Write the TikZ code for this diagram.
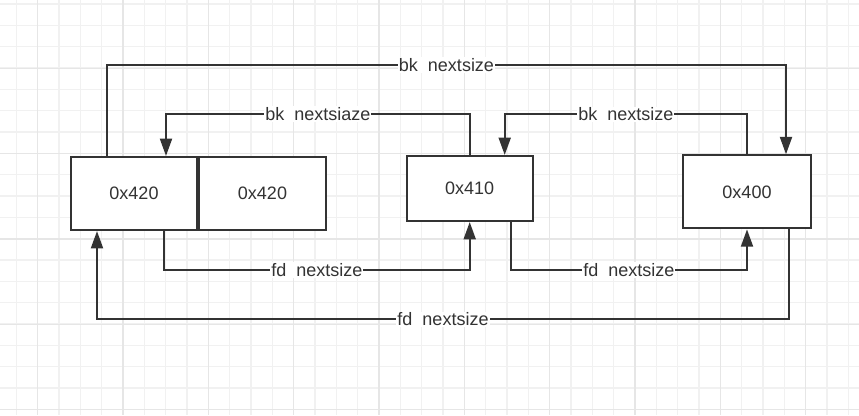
\documentclass[tikz,border=0pt]{standalone}
\usepackage{fontspec}
\setmainfont{Liberation Sans}
\usetikzlibrary{arrows.meta,calc}

\definecolor{linegray}{HTML}{333333}
\definecolor{gridminor}{HTML}{F1F1F1}
\definecolor{gridmajor}{HTML}{E6E6E6}

\begin{document}
\begin{tikzpicture}[
  x=0.75pt, y=-0.75pt,
  gridline/.style={draw=gridminor, line width=0.9pt},
  gridmain/.style={draw=gridmajor, line width=1.1pt},
  chunk/.style={draw=linegray, line width=1.6pt, fill=white, inner sep=0pt,
                minimum width=94.5pt, minimum height=54.75pt,
                text=linegray, font=\fontsize{13.5}{16}\selectfont},
  lbl/.style={fill=white, inner sep=0.8pt, text=linegray,
              font=\fontsize{13.5}{16}\selectfont},
  link/.style={draw=linegray, line width=1.5pt,
               -{Triangle[length=13pt,width=9pt]}}
]

% ---------- frame ----------
\useasboundingbox (0,0) rectangle (859,415);
\fill[white] (0,0) rectangle (859,415);

% ---------- grid ----------
\foreach \gx in {-5,16.333,...,860}
  \draw[gridline] (\gx,0) -- (\gx,415);
\foreach \gy in {4,25.333,...,416}
  \draw[gridline] (0,\gy) -- (859,\gy);
\foreach \gx in {37.667,123,...,860}
  \draw[gridmain] (\gx,0) -- (\gx,415);
\foreach \gy in {68.333,153.667,...,416}
  \draw[gridmain] (0,\gy) -- (859,\gy);

% ---------- chunks ----------
\node[chunk] (A) at (134,193.5) {0x420};
\node[chunk, minimum width=95.25pt] (B) at (262.5,193.5) {0x420};
\node[chunk, minimum height=48.75pt] (C) at (469.7,188.5) {0x410};
\node[chunk, minimum width=95.5pt] (D) at (747,191.8) {0x400};

% ---------- bk links ----------
\draw[link] ($(A.north)+(-27,0)$) -- ++(0,-91)
  -| node[lbl, pos=0.25] {bk\ \ nextsize} ($(D.north)+(39,0)$);
\draw[link] (C.north) -- ++(0,-41)
  -| node[lbl, pos=0.25] {bk\ \ nextsiaze} ($(A.north)+(32,0)$);
\draw[link] (D.north) -- ++(0,-40)
  -| node[lbl, pos=0.25] {bk\ \ nextsize} ($(C.north)+(35,0)$);

% ---------- fd links ----------
\draw[link] ($(A.south)+(30,0)$) -- ++(0,39)
  -| node[lbl, pos=0.25] {fd\ \ nextsize} (C.south);
\draw[link] ($(C.south)+(41,0)$) -- ++(0,48)
  -| node[lbl, pos=0.25] {fd\ \ nextsize} (D.south);
\draw[link] ($(D.south)+(42,0)$) -- ++(0,90)
  -| node[lbl, pos=0.25] {fd\ \ nextsize} ($(A.south)+(-37,0)$);

\end{tikzpicture}
\end{document}
